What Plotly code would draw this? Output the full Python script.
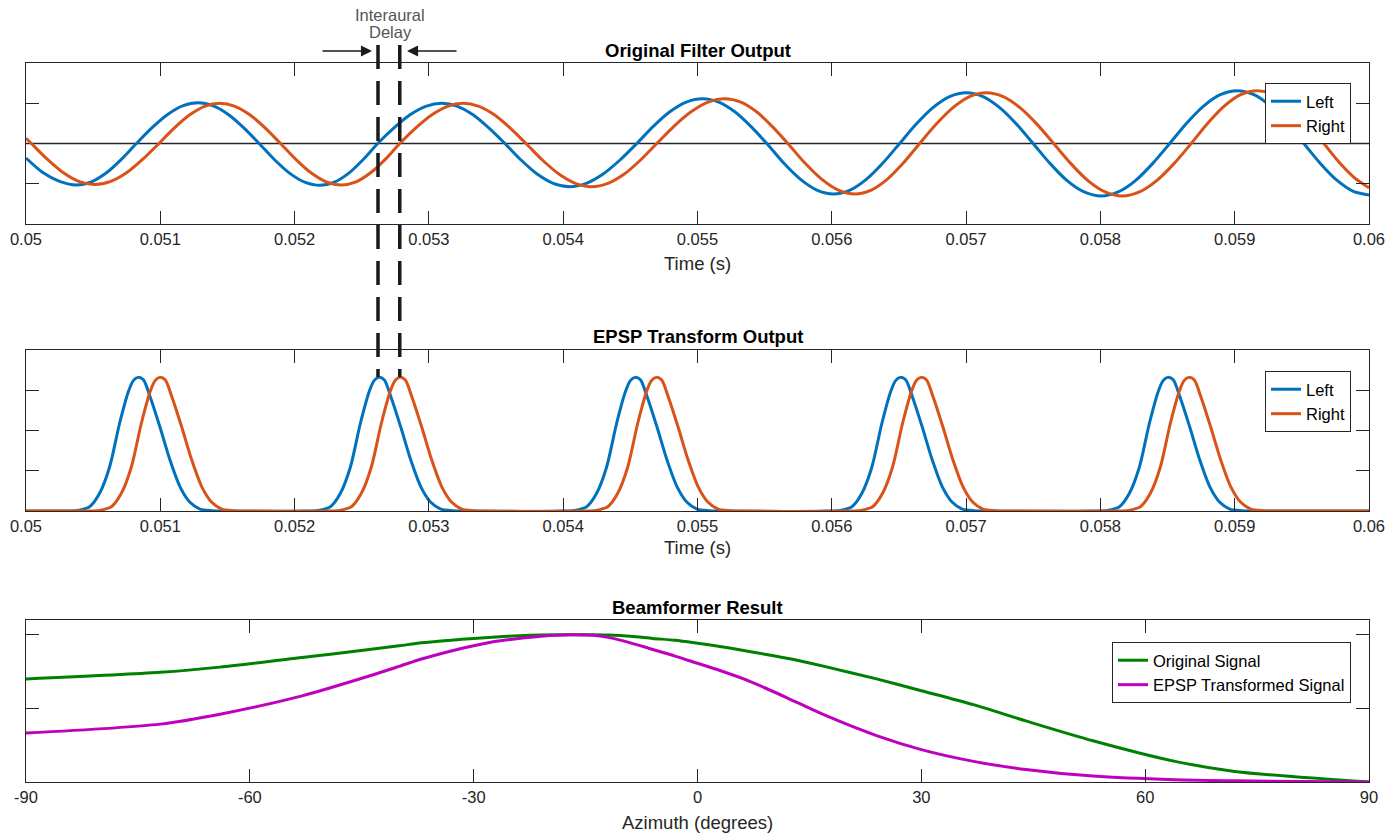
import plotly.graph_objects as go

# ---------------- data ----------------
# Top panel: values
left_t = [0.05, 0.050125, 0.05025, 0.050375,
          0.050487, 0.050599, 0.050710, 0.050822,
          0.050937, 0.051052, 0.051166, 0.051281,
          0.051395, 0.051509, 0.051622, 0.051736,
          0.051849, 0.051962, 0.052075, 0.052188,
          0.052296, 0.052404, 0.052511, 0.052619,
          0.052738, 0.052857, 0.052976, 0.053095,
          0.053213, 0.053331, 0.053448, 0.053566,
          0.053686, 0.053806, 0.053926, 0.054046,
          0.054172, 0.054297, 0.054423, 0.054548,
          0.054671, 0.054794, 0.054916, 0.055039,
          0.055158, 0.055278, 0.055397, 0.055516,
          0.055640, 0.055765, 0.055889, 0.056013,
          0.056136, 0.056259, 0.056382, 0.056505,
          0.056629, 0.056753, 0.056877, 0.057001,
          0.057126, 0.057250, 0.057375, 0.057499,
          0.057626, 0.057752, 0.057879, 0.058005,
          0.058133, 0.058261, 0.058388, 0.058516,
          0.058642, 0.058768, 0.058893, 0.059019,
          0.059143, 0.059267, 0.059391, 0.059515,
          0.059636, 0.059758, 0.059879, 0.06]
left_v = [-0.18, -0.36, -0.47, -0.515,
          -0.476, -0.364, -0.197, 0.0,
          0.194, 0.358, 0.468, 0.507,
          0.468, 0.358, 0.194, 0.0,
          -0.199, -0.368, -0.480, -0.52,
          -0.480, -0.368, -0.199, 0.0,
          0.191, 0.354, 0.462, 0.50,
          0.462, 0.354, 0.191, 0.0,
          -0.205, -0.379, -0.495, -0.536,
          -0.495, -0.379, -0.205, 0.0,
          0.213, 0.394, 0.515, 0.557,
          0.515, 0.394, 0.213, 0.0,
          -0.240, -0.443, -0.579, -0.627,
          -0.579, -0.443, -0.240, 0.0,
          0.241, 0.445, 0.582, 0.63,
          0.582, 0.445, 0.241, 0.0,
          -0.250, -0.461, -0.602, -0.652,
          -0.602, -0.461, -0.250, 0.0,
          0.251, 0.464, 0.606, 0.656,
          0.606, 0.464, 0.251, 0.0,
          -0.245, -0.453, -0.591, -0.64]
right_t = [0.05, 0.05004,
           0.050158, 0.050276, 0.050393, 0.050511,
           0.050631, 0.050751, 0.050870, 0.050990,
           0.051103, 0.051217, 0.051330, 0.051443,
           0.051556, 0.051669, 0.051782, 0.051895,
           0.052009, 0.052122, 0.052236, 0.052349,
           0.052458, 0.052566, 0.052675, 0.052783,
           0.052901, 0.053020, 0.053138, 0.053256,
           0.053373, 0.053490, 0.053606, 0.053723,
           0.053845, 0.053968, 0.054090, 0.054212,
           0.054333, 0.054455, 0.054576, 0.054697,
           0.054824, 0.054952, 0.055079, 0.055206,
           0.055323, 0.055440, 0.055556, 0.055673,
           0.055798, 0.055924, 0.056049, 0.056174,
           0.056294, 0.056414, 0.056534, 0.056654,
           0.056778, 0.056902, 0.057026, 0.057150,
           0.057276, 0.057401, 0.057527, 0.057652,
           0.057780, 0.057907, 0.058035, 0.058162,
           0.058291, 0.058419, 0.058548, 0.058676,
           0.058799, 0.058922, 0.059045, 0.059168,
           0.059292, 0.059416, 0.059540, 0.059664,
           0.059776, 0.059888, 0.06]
right_v = [0.065, 0.0,
           -0.195, -0.361, -0.471, -0.51,
           -0.471, -0.361, -0.195, 0.0,
           0.191, 0.354, 0.462, 0.50,
           0.462, 0.354, 0.191, 0.0,
           -0.197, -0.364, -0.476, -0.515,
           -0.476, -0.364, -0.197, 0.0,
           0.191, 0.354, 0.462, 0.50,
           0.462, 0.354, 0.191, 0.0,
           -0.205, -0.379, -0.495, -0.536,
           -0.495, -0.379, -0.205, 0.0,
           0.213, 0.394, 0.515, 0.557,
           0.515, 0.394, 0.213, 0.0,
           -0.240, -0.443, -0.579, -0.627,
           -0.579, -0.443, -0.240, 0.0,
           0.241, 0.445, 0.582, 0.63,
           0.582, 0.445, 0.241, 0.0,
           -0.250, -0.461, -0.602, -0.652,
           -0.602, -0.461, -0.250, 0.0,
           0.251, 0.464, 0.606, 0.656,
           0.606, 0.464, 0.251, 0.0,
           -0.23, -0.42, -0.55]

# Middle panel: EPSP pulse shape (offset from pulse centre in s, value) and pulse centres
epsp_offsets = [-0.00055, -0.00045, -0.00036, -0.000286, -0.000211, -0.000137, -0.00007,
                -0.000035, 0.0, 0.00004, 0.00009, 0.000164, 0.000238, 0.000313, 0.000387,
                0.000462, 0.00055, 0.00065]
epsp_values = [0.0, 0.004, 0.027, 0.11, 0.275, 0.545, 0.745,
               0.81, 0.83, 0.815, 0.71, 0.52, 0.317, 0.15, 0.054,
               0.012, 0.002, 0.0]
left_peaks = [0.050834, 0.052627, 0.054535, 0.056510, 0.058502]
right_peaks = [0.050996, 0.052783, 0.054692, 0.056664, 0.058658]

# Bottom panel: beamformer output vs azimuth
azimuth = [-90, -72, -64, -53, -44, -40, -37, -33, -30, -27, -24, -21, -17, -14, -12, -9,
           -6, -3, 0, 3, 6, 9, 12, 17, 24, 30, 37, 44, 53, 64, 72, 90]
original_signal = [0.70, 0.745, 0.78, 0.845, 0.90, 0.925, 0.945, 0.963, 0.975, 0.985,
                   0.993, 0.998, 1.0, 1.0, 0.998, 0.99, 0.975, 0.962, 0.942, 0.92, 0.895,
                   0.868, 0.84, 0.785, 0.70, 0.62, 0.525, 0.415, 0.28, 0.14, 0.072, 0.0]
epsp_signal = [0.332, 0.393, 0.46, 0.585, 0.72, 0.785, 0.835, 0.89, 0.925, 0.955,
               0.975, 0.99, 1.0, 0.996, 0.982, 0.945, 0.90, 0.855, 0.806, 0.757, 0.703,
               0.64, 0.572, 0.455, 0.315, 0.22, 0.14, 0.085, 0.04, 0.015, 0.008, 0.0]

# interaural delay markers (left / right zero crossing times)
delay_times = [0.052621, 0.052783]

time_ticks = [0.05, 0.051, 0.052, 0.053, 0.054, 0.055, 0.056, 0.057, 0.058, 0.059, 0.06]
time_ticktext = ["0.05", "0.051", "0.052", "0.053", "0.054", "0.055", "0.056", "0.057",
                 "0.058", "0.059", "0.06"]
az_ticks = [-90, -60, -30, 0, 30, 60, 90]
az_ticktext = ["-90", "-60", "-30", "0", "30", "60", "90"]


def pulse_train(centres):
    xs, ys = [0.05], [0.0]
    for c in centres:
        for o, v in zip(epsp_offsets, epsp_values):
            xs.append(c + o)
            ys.append(v)
    xs.append(0.06)
    ys.append(0.0)
    return xs, ys


BLUE = "#0072BD"
ORANGE = "#D95319"
GREEN = "#008000"
MAGENTA = "#BF00BF"
AX = "#262626"
FONT = "Arial, Liberation Sans, sans-serif"


def sline(color, smoothing):
    return dict(color=color, width=3, shape="spline", smoothing=smoothing, simplify=False)


fig = go.Figure()

# top panel
fig.add_trace(go.Scatter(x=[0.05, 0.06], y=[0, 0], mode="lines",
                         line=dict(color=AX, width=1.5), showlegend=False,
                         xaxis="x", yaxis="y", hoverinfo="skip"))
fig.add_trace(go.Scatter(x=left_t, y=left_v, mode="lines", name="Left",
                         line=sline(BLUE, 0.8), xaxis="x", yaxis="y", legend="legend"))
fig.add_trace(go.Scatter(x=right_t, y=right_v, mode="lines", name="Right",
                         line=sline(ORANGE, 0.8), xaxis="x", yaxis="y", legend="legend"))

# middle panel
lx, ly = pulse_train(left_peaks)
rx, ry = pulse_train(right_peaks)
fig.add_trace(go.Scatter(x=lx, y=ly, mode="lines", name="Left",
                         line=sline(BLUE, 0.8), xaxis="x2", yaxis="y2", legend="legend2"))
fig.add_trace(go.Scatter(x=rx, y=ry, mode="lines", name="Right",
                         line=sline(ORANGE, 0.8), xaxis="x2", yaxis="y2", legend="legend2"))

# bottom panel
fig.add_trace(go.Scatter(x=azimuth, y=original_signal, mode="lines", name="Original Signal",
                         line=sline(GREEN, 0.8), xaxis="x3", yaxis="y3", legend="legend3"))
fig.add_trace(go.Scatter(x=azimuth, y=epsp_signal, mode="lines",
                         name="EPSP Transformed Signal",
                         line=sline(MAGENTA, 0.8), xaxis="x3", yaxis="y3",
                         legend="legend3"))

H = 833.0


def py(pix):
    return 1 - pix / H


def px(pix):
    return (pix - 26) / 1343.0


axis_common = dict(showline=True, linecolor=AX, linewidth=1, mirror="ticks",
                   ticks="inside", ticklen=13, tickwidth=1, tickcolor=AX,
                   showgrid=False, zeroline=False,
                   tickfont=dict(family=FONT, size=16.5, color=AX))

fig.update_layout(
    width=1399, height=833, autosize=False,
    margin=dict(l=26, r=30, t=0, b=0),
    paper_bgcolor="white", plot_bgcolor="white",
    font=dict(family=FONT, color=AX),
    xaxis=dict(domain=[0, 1], range=[0.05, 0.06], tickvals=time_ticks,
               ticktext=time_ticktext, anchor="y", **axis_common),
    yaxis=dict(domain=[py(224), py(63)], range=[-1, 1], tickvals=[-0.5, 0.5],
               showticklabels=False, anchor="x", **axis_common),
    xaxis2=dict(domain=[0, 1], range=[0.05, 0.06], tickvals=time_ticks,
                ticktext=time_ticktext, anchor="y2", **axis_common),
    yaxis2=dict(domain=[py(511), py(350)], range=[0, 1], tickvals=[0.25, 0.5, 0.75],
                showticklabels=False, anchor="x2", **axis_common),
    xaxis3=dict(domain=[0, 1], range=[-90, 90], tickvals=az_ticks,
                ticktext=az_ticktext, anchor="y3", **axis_common),
    yaxis3=dict(domain=[py(782), py(620)], range=[0, 1.1], tickvals=[0, 0.5, 1],
                showticklabels=False, anchor="x3", **axis_common),
)

leg_common = dict(xanchor="right", yanchor="top", bgcolor="white",
                  bordercolor=AX, borderwidth=1,
                  font=dict(family=FONT, size=16.5, color="#000000"),
                  tracegroupgap=0, itemwidth=30)
fig.update_layout(
    legend=dict(x=px(1351), y=py(83), **leg_common),
    legend2=dict(x=px(1351), y=py(371), **leg_common),
    legend3=dict(x=px(1351), y=py(642), **leg_common),
)

ann = []
title_font = dict(family=FONT, size=18.5, color="#000000")
for txt, ypix in [("<b>Original Filter Output</b>", 50),
                  ("<b>EPSP Transform Output</b>", 336),
                  ("<b>Beamformer Result</b>", 607)]:
    ann.append(dict(text=txt, x=0.5, y=py(ypix), xref="paper", yref="paper",
                    showarrow=False, xanchor="center", yanchor="middle", font=title_font))
label_font = dict(family=FONT, size=18.5, color=AX)
for txt, ypix in [("Time (s)", 264), ("Time (s)", 547), ("Azimuth (degrees)", 822)]:
    ann.append(dict(text=txt, x=0.5, y=py(ypix), xref="paper", yref="paper",
                    showarrow=False, xanchor="center", yanchor="middle", font=label_font))

delay_font = dict(family=FONT, size=16.5, color="#555555")
ann.append(dict(text="Interaural", x=px(390), y=py(15), xref="paper", yref="paper",
                showarrow=False, xanchor="center", yanchor="middle", font=delay_font))
ann.append(dict(text="Delay", x=px(390), y=py(32), xref="paper", yref="paper",
                showarrow=False, xanchor="center", yanchor="middle", font=delay_font))
# arrows pointing at the delay markers
ann.append(dict(text="", x=px(372), y=py(51), xref="paper", yref="paper",
                ax=-51, ay=0, showarrow=True, arrowhead=2, arrowsize=1.7,
                arrowwidth=1.3, arrowcolor="#1a1a1a"))
ann.append(dict(text="", x=px(407), y=py(51), xref="paper", yref="paper",
                ax=51, ay=0, showarrow=True, arrowhead=2, arrowsize=1.7,
                arrowwidth=1.3, arrowcolor="#1a1a1a"))
fig.update_layout(annotations=ann)

shapes = []
for t in delay_times:
    shapes.append(dict(type="line", xref="x", yref="paper", x0=t, x1=t,
                       y0=py(45), y1=py(377), line=dict(color="#1a1a1a", width=3.5,
                                                        dash="24px,12px")))
fig.update_layout(shapes=shapes)

fig.write_html("out.html")
